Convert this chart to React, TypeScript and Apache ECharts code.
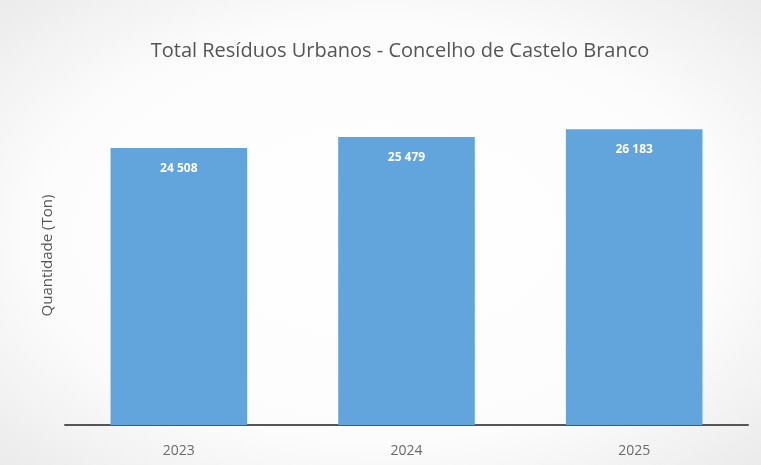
import React, { useEffect, useRef } from "react";
import * as echarts from "echarts";

const categories = ["2023", "2024", "2025"];
const values = [24508, 25479, 26183];
const labels = ["24 508", "25 479", "26 183"];
const title = "Total Resíduos Urbanos - Concelho de Castelo Branco";
const yName = "Quantidade (Ton)";

export default function App() {
  const ref = useRef<HTMLDivElement>(null);
  useEffect(() => {
    if (!ref.current) return;
    const chart = echarts.init(ref.current, undefined, { renderer: "svg" });
    chart.setOption({
      animation: false,
      backgroundColor: {
        type: "radial",
        x: 0.5,
        y: 0.5,
        r: 0.75,
        colorStops: [
          { offset: 0, color: "#ffffff" },
          { offset: 0.6, color: "#fcfcfc" },
          { offset: 1, color: "#e8e8e8" },
        ],
      },
      title: {
        text: title,
        left: 395,
        textAlign: "center",
        top: 34,
        textStyle: {
          fontFamily: "Open Sans",
          fontSize: 20,
          fontWeight: "normal",
          color: "#555555",
        },
      },
      grid: { left: 65, right: 13, top: 86, bottom: 40, containLabel: false },
      xAxis: {
        type: "category",
        data: categories,
        axisLine: { show: true, lineStyle: { color: "#555555", width: 2 } },
        axisTick: { show: false },
        axisLabel: {
          fontFamily: "Open Sans",
          fontSize: 14,
          color: "#6a6a6a",
          margin: 17,
        },
      },
      yAxis: {
        type: "value",
        min: 0,
        max: 30000,
        name: yName,
        nameLocation: "middle",
        nameGap: 12,
        nameRotate: 90,
        nameTextStyle: {
          fontFamily: "Open Sans",
          fontSize: 15,
          color: "#555555",
        },
        axisLine: { show: false },
        axisTick: { show: false },
        axisLabel: { show: false },
        splitLine: { show: false },
      },
      series: [
        {
          type: "bar",
          data: values,
          barWidth: "60%",
          itemStyle: { color: "#62a4dc" },
          label: {
            show: true,
            position: "insideTop",
            distance: 13,
            color: "#ffffff",
            fontFamily: "Open Sans",
            fontWeight: "bold",
            fontSize: 12,
            formatter: (p: any) => labels[p.dataIndex],
          },
        },
      ],
    });
    return () => chart.dispose();
  }, []);
  return (
    <div
      ref={ref}
      style={{ position: "fixed", left: 0, top: 0, width: 761, height: 465 }}
    />
  );
}
